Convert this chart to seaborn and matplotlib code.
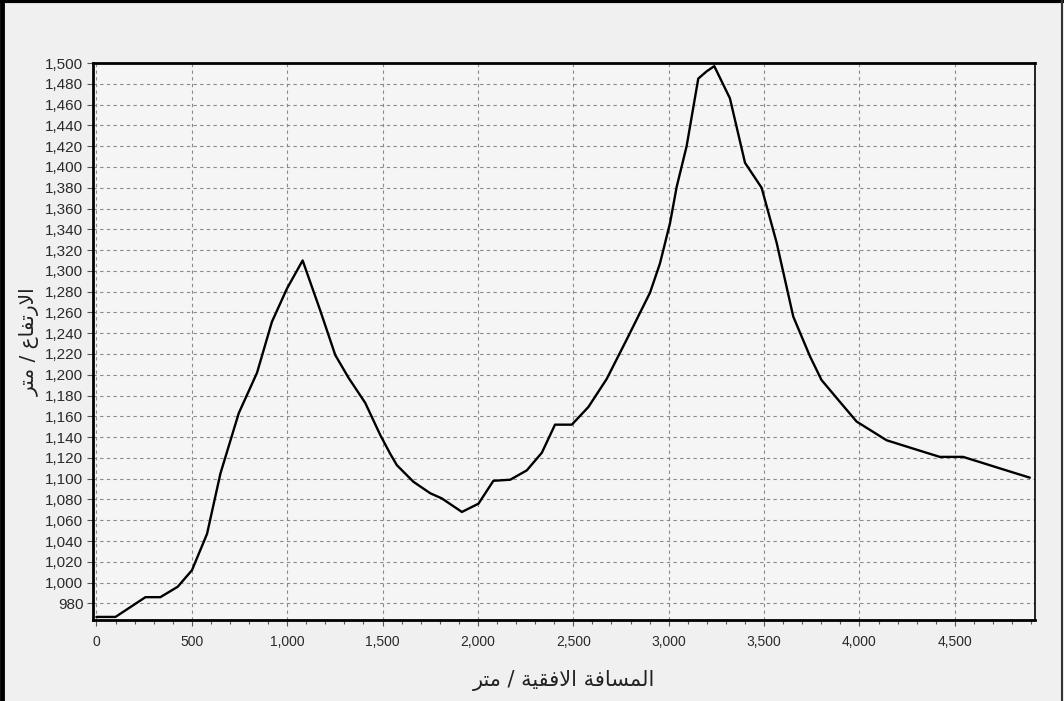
import matplotlib
matplotlib.use("Agg")
import matplotlib.pyplot as plt
import matplotlib.ticker as mticker
from matplotlib.lines import Line2D
import seaborn as sns

# horizontal distance (m) and elevation (m)
distance = [0, 100, 257, 335, 426, 501, 580, 650, 746, 842, 920, 999, 1081,
            1173, 1252, 1322, 1409, 1488, 1540, 1575, 1662, 1750, 1811, 1916,
            2003, 2081, 2169, 2256, 2335, 2404, 2492, 2579, 2675, 2780, 2902,
            2954, 3007, 3042, 3094, 3155, 3199, 3239, 3321, 3400, 3487, 3566,
            3653, 3740, 3801, 3888, 3985, 4142, 4281, 4421, 4543, 4631, 4735,
            4893]
elevation = [967, 967, 986, 986, 996, 1012, 1047, 1105, 1163, 1202, 1251, 1283,
             1310, 1262, 1219, 1197, 1173, 1142, 1124, 1113, 1097, 1086, 1081,
             1068, 1076, 1098, 1099, 1108, 1125, 1152, 1152, 1169, 1196, 1234,
             1279, 1307, 1346, 1381, 1420, 1485, 1492, 1497, 1466, 1404, 1380,
             1327, 1256, 1218, 1195, 1176, 1155, 1137, 1129, 1121, 1121, 1116,
             1110, 1101]

x_ticks = list(range(0, 5000, 500))
y_ticks = list(range(980, 1501, 20))

# Arabic labels written in shaped presentation forms, visual order
x_label = "\uFEAE\uFE98\uFEE3 / \uFE94\uFEF4\uFED8\uFED3\uFEFB\uFE8D \uFE94\uFED3\uFE8E\uFEB4\uFEE4\uFEDF\uFE8D"
y_label = "\uFEAE\uFE98\uFEE3 / \uFEC9\uFE8E\uFED4\uFE97\uFEAD\uFEFB\uFE8D"

sns.set_style("white")
plt.rcParams["font.family"] = ["Liberation Sans", "DejaVu Sans"]

fig = plt.figure(figsize=(10.64, 7.01), dpi=100)
fig.patch.set_facecolor("#f0f0f0")
ax = fig.add_axes([0.0874, 0.1155, 0.8853, 0.7946])
ax.set_facecolor("#f5f5f5")

sns.lineplot(x=distance, y=elevation, ax=ax, color="black", linewidth=1.7,
             sort=False, estimator=None)

ax.set_xlim(-18, 4920)
ax.set_ylim(964, 1500)
ax.set_xticks(x_ticks)
ax.set_yticks(y_ticks)
ax.xaxis.set_minor_locator(mticker.MultipleLocator(100))
fmt = mticker.FuncFormatter(lambda v, p: f"{int(v):,}")
ax.xaxis.set_major_formatter(fmt)
ax.yaxis.set_major_formatter(fmt)

ax.tick_params(axis="both", which="major", direction="out", length=4,
               width=0.8, color="#555555", labelcolor="#2a2a2a", pad=3)
ax.tick_params(axis="x", which="major", pad=7, labelsize=10)
ax.tick_params(axis="y", which="major", labelsize=11)
ax.tick_params(axis="x", which="minor", direction="out", length=3,
               width=0.8, color="#555555")
ax.tick_params(axis="x", which="both", bottom=True)
ax.tick_params(axis="y", which="both", left=True)

ax.grid(True, which="major", color="#8a8a8a", linestyle=(0, (3, 3)),
        linewidth=0.8)

for side, spine in ax.spines.items():
    spine.set_visible(True)
    spine.set_color("black")
    spine.set_linewidth(2.0 if side in ("left", "bottom", "top") else 1.2)

ax.set_xlabel(x_label, fontsize=15, family="DejaVu Sans", labelpad=15,
              color="#222222")
ax.set_ylabel(y_label, fontsize=14.5, family="DejaVu Sans", labelpad=4,
              color="#222222")

# outer window frame
fig.add_artist(Line2D([0.002, 0.002], [0, 1], transform=fig.transFigure,
                      color="black", linewidth=3.5))
fig.add_artist(Line2D([0, 1], [0.998, 0.998], transform=fig.transFigure,
                      color="black", linewidth=3))
fig.add_artist(Line2D([0.998, 0.998], [0, 1], transform=fig.transFigure,
                      color="#333333", linewidth=1.5))

fig.savefig("out.png", dpi=100, facecolor=fig.get_facecolor())
